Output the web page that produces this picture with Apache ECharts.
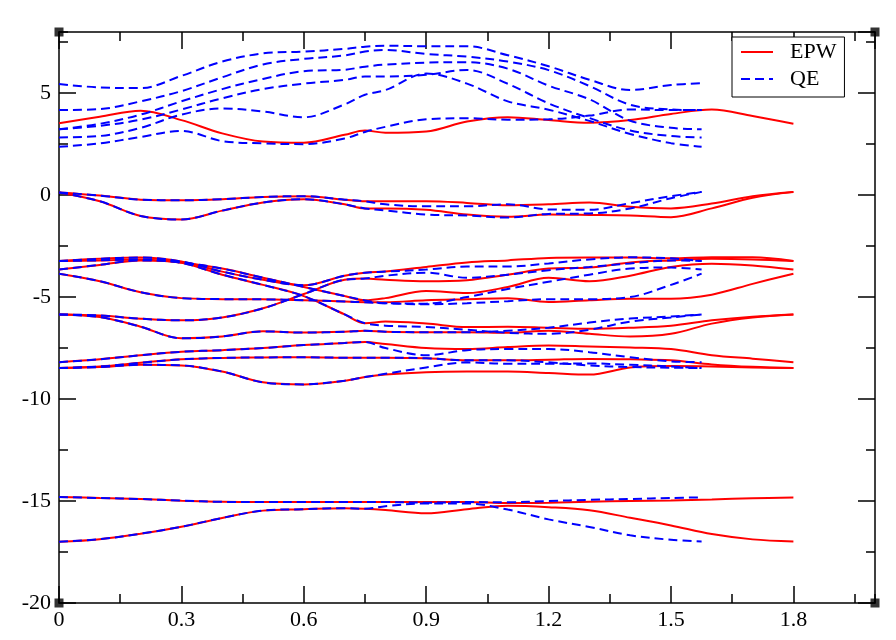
<!DOCTYPE html>
<html>
<head>
<meta charset="utf-8">
<script src="https://cdn.jsdelivr.net/npm/echarts@6/dist/echarts.min.js"></script>
<style>
html,body{margin:0;padding:0;background:#fff;}
#chart{width:896px;height:640px;}
</style>
</head>
<body>
<div id="chart"></div>
<script>
// k-path coordinates
const xEPW = [0, 0.1, 0.2, 0.3, 0.4, 0.5, 0.6, 0.7, 0.75, 0.8, 0.9, 1.0, 1.1, 1.2, 1.3, 1.4, 1.5, 1.6, 1.7, 1.8];
const xQE  = [0, 0.1, 0.2, 0.3, 0.4, 0.5, 0.6, 0.7, 0.75, 0.8, 0.9, 1.0, 1.1, 1.2, 1.3, 1.4, 1.5, 1.575];

// EPW bands (eV)
const epwC1 = [3.52, 3.84, 4.14, 3.68, 3.03, 2.63, 2.57, 2.96, 3.17, 3.06, 3.12, 3.61, 3.82, 3.68, 3.55, 3.68, 3.98, 4.2, 3.88, 3.5];
const epwT1 = [0.13, -0.02, -0.22, -0.25, -0.2, -0.09, -0.05, -0.22, -0.3, -0.3, -0.3, -0.38, -0.5, -0.45, -0.36, -0.57, -0.65, -0.41, -0.05, 0.16];
const epwT2 = [0.13, -0.3, -1.02, -1.19, -0.76, -0.36, -0.2, -0.45, -0.65, -0.65, -0.72, -0.95, -1.06, -0.95, -0.97, -1.0, -1.08, -0.65, -0.13, 0.16];
const epwE1 = [-3.23, -3.12, -3.06, -3.25, -3.75, -4.15, -4.42, -3.95, -3.8, -3.74, -3.52, -3.3, -3.2, -3.08, -3.06, -3.06, -3.1, -3.05, -3.05, -3.23];
const epwE2 = [-5.85, -5.9, -6.06, -6.14, -6.0, -5.55, -4.85, -4.15, -4.09, -4.15, -4.22, -4.17, -3.9, -3.6, -3.55, -3.3, -3.2, -3.12, -3.15, -3.23];
const epwE3 = [-3.23, -3.2, -3.15, -3.3, -3.6, -4.05, -4.5, -4.95, -5.16, -5.05, -4.7, -4.8, -4.5, -4.05, -4.22, -3.95, -3.52, -3.36, -3.45, -3.65];
const epwE4 = [-3.85, -4.22, -4.76, -5.05, -5.1, -5.11, -5.15, -5.22, -5.25, -5.25, -5.15, -5.1, -5.05, -5.24, -5.15, -5.08, -5.08, -4.88, -4.35, -3.85];
const epwE5 = [-3.65, -3.42, -3.2, -3.32, -3.9, -4.4, -4.95, -5.85, -6.28, -6.2, -6.3, -6.47, -6.45, -6.5, -6.55, -6.5, -6.4, -6.14, -5.96, -5.85];
const epwE6 = [-5.85, -5.98, -6.45, -7.02, -6.93, -6.68, -6.74, -6.7, -6.65, -6.7, -6.72, -6.72, -6.75, -6.65, -6.8, -6.93, -6.8, -6.3, -6.0, -5.85];
const epwE7 = [-8.19, -8.05, -7.85, -7.68, -7.6, -7.5, -7.35, -7.25, -7.2, -7.3, -7.5, -7.55, -7.45, -7.37, -7.42, -7.47, -7.55, -7.85, -8.02, -8.19];
const epwE8 = [-8.48, -8.4, -8.22, -8.05, -7.98, -7.96, -7.95, -7.97, -7.97, -7.97, -8.0, -8.1, -8.1, -8.07, -8.03, -8.05, -8.1, -8.3, -8.42, -8.48];
const epwE9 = [-8.48, -8.43, -8.32, -8.35, -8.65, -9.18, -9.28, -9.1, -8.92, -8.8, -8.68, -8.65, -8.65, -8.72, -8.8, -8.45, -8.38, -8.4, -8.45, -8.48];
const epwD1 = [-14.8, -14.85, -14.9, -14.98, -15.04, -15.05, -15.05, -15.05, -15.05, -15.05, -15.05, -15.05, -15.1, -15.08, -15.03, -15.0, -14.97, -14.92, -14.86, -14.83];
const epwD2 = [-17.0, -16.87, -16.6, -16.26, -15.83, -15.47, -15.4, -15.35, -15.38, -15.44, -15.6, -15.4, -15.23, -15.3, -15.45, -15.82, -16.2, -16.62, -16.88, -16.98];

// QE bands (eV)
const qeC1 = [5.45, 5.28, 5.25, 5.85, 6.55, 6.95, 7.04, 7.17, 7.28, 7.33, 7.3, 7.3, 6.86, 6.32, 5.66, 5.16, 5.4, 5.49];
const qeC2 = [4.17, 4.22, 4.6, 5.1, 5.78, 6.41, 6.68, 6.85, 7.04, 7.12, 6.92, 6.79, 6.55, 6.13, 5.35, 4.43, 4.2, 4.17];
const qeC3 = [3.23, 3.5, 3.95, 4.6, 5.2, 5.7, 6.08, 6.15, 6.3, 6.4, 6.5, 6.52, 6.2, 5.37, 4.7, 3.65, 3.3, 3.23];
const qeC4 = [3.23, 3.4, 3.7, 4.2, 4.75, 5.2, 5.47, 5.65, 5.82, 5.82, 5.9, 6.14, 5.46, 4.5, 3.78, 3.17, 2.9, 2.83];
const qeC5 = [2.83, 2.9, 3.3, 3.95, 4.25, 4.1, 3.82, 4.45, 4.92, 5.15, 5.96, 5.47, 4.6, 4.19, 3.64, 3.0, 2.55, 2.37];
const qeC6 = [2.37, 2.54, 2.85, 3.15, 2.65, 2.54, 2.5, 2.78, 3.1, 3.35, 3.72, 3.77, 3.7, 3.72, 3.9, 4.2, 4.17, 4.17];
const qeT1 = [0.13, -0.02, -0.22, -0.25, -0.2, -0.09, -0.05, -0.22, -0.3, -0.45, -0.55, -0.55, -0.45, -0.7, -0.72, -0.39, -0.05, 0.16];
const qeT2 = [0.13, -0.3, -1.02, -1.19, -0.76, -0.36, -0.2, -0.45, -0.65, -0.75, -0.95, -1.0, -1.1, -0.92, -0.9, -0.65, -0.15, 0.16];
const qeE1 = [-3.23, -3.12, -3.06, -3.25, -3.75, -4.15, -4.42, -3.95, -3.8, -3.75, -3.65, -3.5, -3.5, -3.35, -3.15, -3.05, -3.1, -3.23];
const qeE2 = [-5.85, -5.9, -6.06, -6.14, -6.0, -5.55, -4.85, -4.15, -4.09, -3.95, -3.8, -4.05, -3.9, -3.68, -3.52, -3.35, -3.2, -3.23];
const qeE3 = [-3.23, -3.2, -3.15, -3.3, -3.6, -4.05, -4.5, -4.95, -5.16, -5.3, -5.32, -5.0, -4.6, -4.25, -3.9, -3.6, -3.55, -3.65];
const qeE4 = [-3.85, -4.22, -4.76, -5.05, -5.1, -5.11, -5.15, -5.22, -5.25, -5.3, -5.35, -5.3, -5.2, -5.1, -5.1, -5.0, -4.4, -3.85];
const qeE5 = [-3.65, -3.42, -3.2, -3.32, -3.9, -4.4, -4.95, -5.85, -6.28, -6.4, -6.47, -6.6, -6.75, -6.8, -6.6, -6.2, -6.0, -5.85];
const qeE6 = [-5.85, -5.98, -6.45, -7.02, -6.93, -6.68, -6.74, -6.7, -6.65, -6.7, -6.72, -6.72, -6.65, -6.5, -6.25, -6.05, -5.95, -5.85];
const qeE7 = [-8.19, -8.05, -7.85, -7.68, -7.6, -7.5, -7.35, -7.25, -7.2, -7.5, -7.85, -7.6, -7.55, -7.55, -7.7, -7.95, -8.15, -8.19];
const qeE8 = [-8.48, -8.4, -8.22, -8.05, -7.98, -7.96, -7.95, -7.97, -7.97, -7.97, -8.0, -8.1, -8.1, -8.2, -8.35, -8.43, -8.46, -8.48];
const qeE9 = [-8.48, -8.43, -8.32, -8.35, -8.65, -9.18, -9.28, -9.1, -8.92, -8.76, -8.45, -8.2, -8.27, -8.27, -8.25, -8.32, -8.4, -8.48];
const qeD1 = [-14.8, -14.85, -14.9, -14.98, -15.04, -15.05, -15.05, -15.05, -15.05, -15.05, -15.08, -15.05, -15.06, -15.0, -14.94, -14.9, -14.85, -14.82];
const qeD2 = [-17.0, -16.87, -16.6, -16.26, -15.83, -15.47, -15.4, -15.35, -15.38, -15.25, -15.12, -15.12, -15.42, -15.9, -16.27, -16.68, -16.9, -16.98];

const epwBands = [epwC1, epwT1, epwT2, epwE1, epwE2, epwE3, epwE4, epwE5, epwE6, epwE7, epwE8, epwE9, epwD1, epwD2];
const qeBands = [qeC1, qeC2, qeC3, qeC4, qeC5, qeC6, qeT1, qeT2, qeE1, qeE2, qeE3, qeE4, qeE5, qeE6, qeE7, qeE8, qeE9, qeD1, qeD2];

// axis settings
const xMin = 0, xMax = 2.0, xMajor = 0.3, xMinor = 0.15;
const yMin = -20, yMax = 8, yMajor = 5, yMinor = 2.5;
const corners = [[xMin, yMax], [xMax, yMax], [xMin, yMin], [xMax, yMin]];

const FONT = 'Liberation Serif';
const FS = 22;
const chart = echarts.init(document.getElementById('chart'), null, {renderer: 'canvas'});

function xAx(pos, interval, len, labels, line) {
  return {
    type: 'value', position: pos, min: xMin, max: xMax, interval: interval,
    axisLine: {show: line, onZero: false, lineStyle: {color: '#000', width: 1.5}},
    axisTick: {show: true, inside: true, length: len, lineStyle: {color: '#000', width: 1.5}},
    axisLabel: {show: labels, margin: 6, color: '#000', fontFamily: FONT, fontSize: FS, showMaxLabel: false},
    splitLine: {show: false}
  };
}
function yAx(pos, interval, len, labels, line) {
  return {
    type: 'value', position: pos, min: yMin, max: yMax, interval: interval,
    axisLine: {show: line, onZero: false, lineStyle: {color: '#000', width: 1.5}},
    axisTick: {show: true, inside: true, length: len, lineStyle: {color: '#000', width: 1.5}},
    axisLabel: {show: labels, margin: 8, color: '#000', fontFamily: FONT, fontSize: FS, showMaxLabel: false},
    splitLine: {show: false}
  };
}

const series = [];
epwBands.forEach(b => {
  series.push({
    name: 'EPW', type: 'line', xAxisIndex: 0, yAxisIndex: 0,
    data: xEPW.map((x, i) => [x, b[i]]),
    symbol: 'none', showSymbol: false, smooth: 0.35,
    lineStyle: {color: '#ff0000', width: 2, type: 'solid'},
    itemStyle: {color: '#ff0000'}, silent: true, z: 2
  });
});
qeBands.forEach(b => {
  series.push({
    name: 'QE', type: 'line', xAxisIndex: 0, yAxisIndex: 0,
    data: xQE.map((x, i) => [x, b[i]]),
    symbol: 'none', showSymbol: false, smooth: 0.35,
    lineStyle: {color: '#0000ff', width: 2, type: [9, 5]},
    itemStyle: {color: '#0000ff'}, silent: true, z: 3
  });
});
series.push({
  type: 'scatter', xAxisIndex: 0, yAxisIndex: 0, data: corners,
  symbol: 'rect', symbolSize: 9, itemStyle: {color: '#000'},
  clip: false, silent: true, z: 10
});

chart.setOption({
  animation: false,
  backgroundColor: '#fff',
  grid: {left: 59, right: 21, top: 32, bottom: 37, containLabel: false},
  legend: {
    data: [
      {name: 'EPW', itemStyle: {opacity: 0}},
      {name: 'QE', itemStyle: {opacity: 0}}
    ],
    itemStyle: {opacity: 0},
    orient: 'vertical', left: 732, top: 37,
    padding: [4, 8, 7, 8], itemGap: 5, itemWidth: 32, itemHeight: 14,
    borderColor: '#000', borderWidth: 1, backgroundColor: '#fff',
    textStyle: {fontFamily: FONT, fontSize: FS, color: '#000', lineHeight: 22, padding: [0, 0, 0, 12]}
  },
  xAxis: [
    xAx('bottom', xMajor, 17, true, true),
    xAx('bottom', xMinor, 9, false, false),
    xAx('top', xMajor, 17, false, true),
    xAx('top', xMinor, 9, false, false)
  ],
  yAxis: [
    yAx('left', yMajor, 17, true, true),
    yAx('left', yMinor, 9, false, false),
    yAx('right', yMajor, 17, false, true),
    yAx('right', yMinor, 9, false, false)
  ],
  series: series
});
</script>
</body>
</html>
